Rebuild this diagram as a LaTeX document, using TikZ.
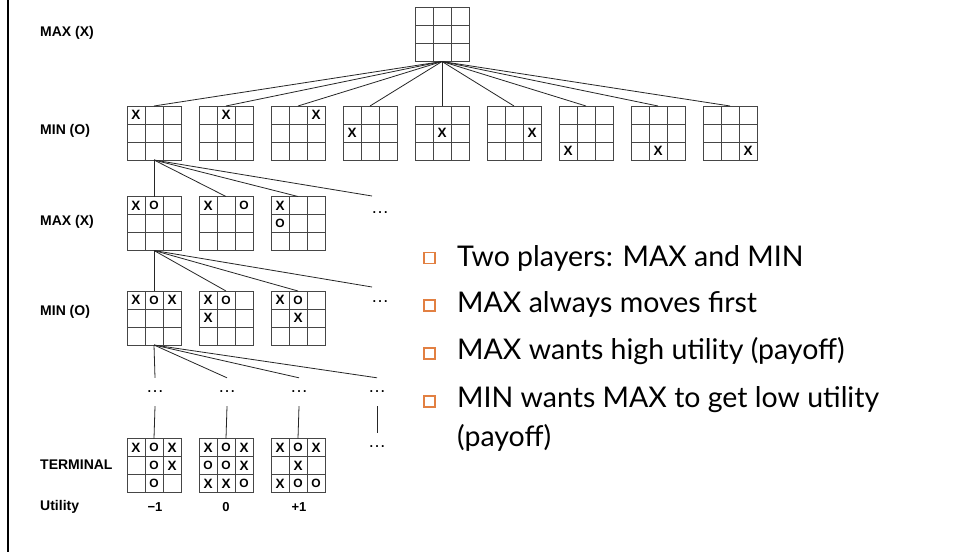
\documentclass[tikz,border=0pt]{standalone}
\usepackage{fontspec}
\setmainfont{Liberation Sans}
\newfontfamily\slidefont{Lato}
\usetikzlibrary{calc}

\definecolor{gridgray}{RGB}{70,70,70}
\definecolor{bulletorange}{RGB}{226,128,66}

\tikzset{
  board/.style={draw=gridgray, line width=0.9pt, minimum width=54pt,
    minimum height=54pt, inner sep=0pt, outer sep=0pt},
  cell/.style={draw=gridgray, line width=0.9pt},
  xmark/.style={font=\fontsize{13.5}{14}\selectfont\bfseries, inner sep=0pt},
  omark/.style={font=\fontsize{12}{13}\selectfont\bfseries, inner sep=0pt},
  conn/.style={draw=black!85, line width=0.8pt},
  level/.style={font=\fontsize{14}{15}\selectfont\bfseries, anchor=west, inner sep=0pt},
  util/.style={font=\fontsize{13}{14}\selectfont\bfseries, inner sep=0pt},
  dotsnode/.style={font=\fontsize{18}{18}\selectfont\rmfamily, inner sep=0pt,
    minimum height=28pt},
  sqbullet/.style={draw=bulletorange, line width=1.2pt, minimum size=11pt,
    inner sep=0pt},
  item/.style={font=\fontsize{28.5}{30}\selectfont\slidefont, anchor=base west,
    inner sep=0pt},
}

% a 3x3 board: name, centre x, centre y
\newcommand\tttboard[3]{%
  \node[board] (#1) at (#2,#3) {};
  \draw[cell] ($(#1.north west)+(18,0)$) -- ($(#1.south west)+(18,0)$)
              ($(#1.north west)+(36,0)$) -- ($(#1.south west)+(36,0)$)
              ($(#1.north west)+(0,18)$) -- ($(#1.north east)+(0,18)$)
              ($(#1.north west)+(0,36)$) -- ($(#1.north east)+(0,36)$);
}
% a mark in a cell: board, column, row, style, text
\newcommand\tttmark[5]{%
  \node[#4] at ($(#1.north west)+({9+18*#2},{9+18*#3})$) {#5};}
\newcommand\X[3]{\tttmark{#1}{#2}{#3}{xmark}{X}}
\newcommand\OO[3]{\tttmark{#1}{#2}{#3}{omark}{O}}

\begin{document}
\begin{tikzpicture}[x=1pt,y=-1pt]
\useasboundingbox (0,0) rectangle (957,552);
\fill[white] (0,0) rectangle (957,552);

% slide edge
\draw[line width=2pt] (7.5,0) -- (7.5,552);

% level labels
\node[level] (l0) at (40,33) {MAX (X)};
\node[level] (l1) at (40,131) {MIN (O)};
\node[level] (l2) at (40,222) {MAX (X)};
\node[level] (l3) at (40,312) {MIN (O)};
\node[level] (l4) at (40,465) {TERMINAL};
\node[level] (l5) at (40,507) {Utility};

% root
\tttboard{root}{442}{34.5}

% first moves of X
\foreach \i/\c/\r in {1/0/0,2/1/0,3/2/0,4/0/1,5/1/1,6/2/1,7/0/2,8/1/2,9/2/2}{
  \tttboard{m\i}{82+72*\i}{133}
  \X{m\i}{\c}{\r}
  \draw[conn] (root.south) -- (m\i.north);
}

% replies of O
\tttboard{a1}{154}{223.5}
\tttboard{a2}{226}{223.5}
\tttboard{a3}{298}{223.5}
\X{a1}{0}{0}\OO{a1}{1}{0}
\X{a2}{0}{0}\OO{a2}{2}{0}
\X{a3}{0}{0}\OO{a3}{0}{1}
\node[dotsnode] (ad) at (380,213) {\ldots};
\coordinate (ae) at (372,196);
\draw[conn] (m1.south) -- (a1.north);
\draw[conn] (m1.south) -- (a2.north);
\draw[conn] (m1.south) -- (a3.north);
\draw[conn] (m1.south) -- (ae);

% second moves of X
\tttboard{b1}{154}{318}
\tttboard{b2}{226}{318}
\tttboard{b3}{298}{318}
\X{b1}{0}{0}\OO{b1}{1}{0}\X{b1}{2}{0}
\X{b2}{0}{0}\OO{b2}{1}{0}\X{b2}{0}{1}
\X{b3}{0}{0}\OO{b3}{1}{0}\X{b3}{1}{1}
\node[dotsnode] (bd) at (380,302) {\ldots};
\coordinate (be) at (372,287);
\draw[conn] (a1.south) -- (b1.north);
\draw[conn] (a1.south) -- (b2.north);
\draw[conn] (a1.south) -- (b3.north);
\draw[conn] (a1.south) -- (be);

% elided middle of the game
\node[dotsnode] (e1) at (155,392) {\ldots};
\node[dotsnode] (e2) at (227,392) {\ldots};
\node[dotsnode] (e3) at (299,392) {\ldots};
\node[dotsnode] (e4) at (377,392) {\ldots};
\node[dotsnode] (e5) at (377,447) {\ldots};
\draw[conn] (b1.south) -- (e1.north);
\draw[conn] (b1.south) -- (e2.north);
\draw[conn] (b1.south) -- (e3.north);
\draw[conn] (b1.south) -- (e4.north);

% terminal states
\tttboard{t1}{154}{465.5}
\tttboard{t2}{226}{465.5}
\tttboard{t3}{298}{465.5}
\draw[conn] (e1.south) -- (t1.north);
\draw[conn] (e2.south) -- (t2.north);
\draw[conn] (e3.south) -- (t3.north);
\draw[conn] (e4.south) -- (e5.north);

\X{t1}{0}{0}\OO{t1}{1}{0}\X{t1}{2}{0}
\OO{t1}{1}{1}\X{t1}{2}{1}
\OO{t1}{1}{2}

\X{t2}{0}{0}\OO{t2}{1}{0}\X{t2}{2}{0}
\OO{t2}{0}{1}\OO{t2}{1}{1}\X{t2}{2}{1}
\X{t2}{0}{2}\X{t2}{1}{2}\OO{t2}{2}{2}

\X{t3}{0}{0}\OO{t3}{1}{0}\X{t3}{2}{0}
\X{t3}{1}{1}
\X{t3}{0}{2}\OO{t3}{1}{2}\OO{t3}{2}{2}

% utilities
\node[util] (u1) at (155,507) {−1};
\node[util] (u2) at (226,507) {0};
\node[util] (u3) at (299,507) {+1};

% bullet list
\node[sqbullet] (s1) at (429.5,258) {};
\node[sqbullet] (s2) at (429.5,305.5) {};
\node[sqbullet] (s3) at (429.5,353.5) {};
\node[sqbullet] (s4) at (429.5,401.5) {};
\node[item] (p1) at (457,266) {Two players: MAX and MIN};
\node[item] (p2) at (457,312) {MAX always moves first};
\node[item] (p3) at (457,359) {MAX wants high utility (payoff)};
\node[item] (p4) at (457,407) {MIN wants MAX to get low utility};
\node[item] (p5) at (457,446) {(payoff)};
\end{tikzpicture}
\end{document}
